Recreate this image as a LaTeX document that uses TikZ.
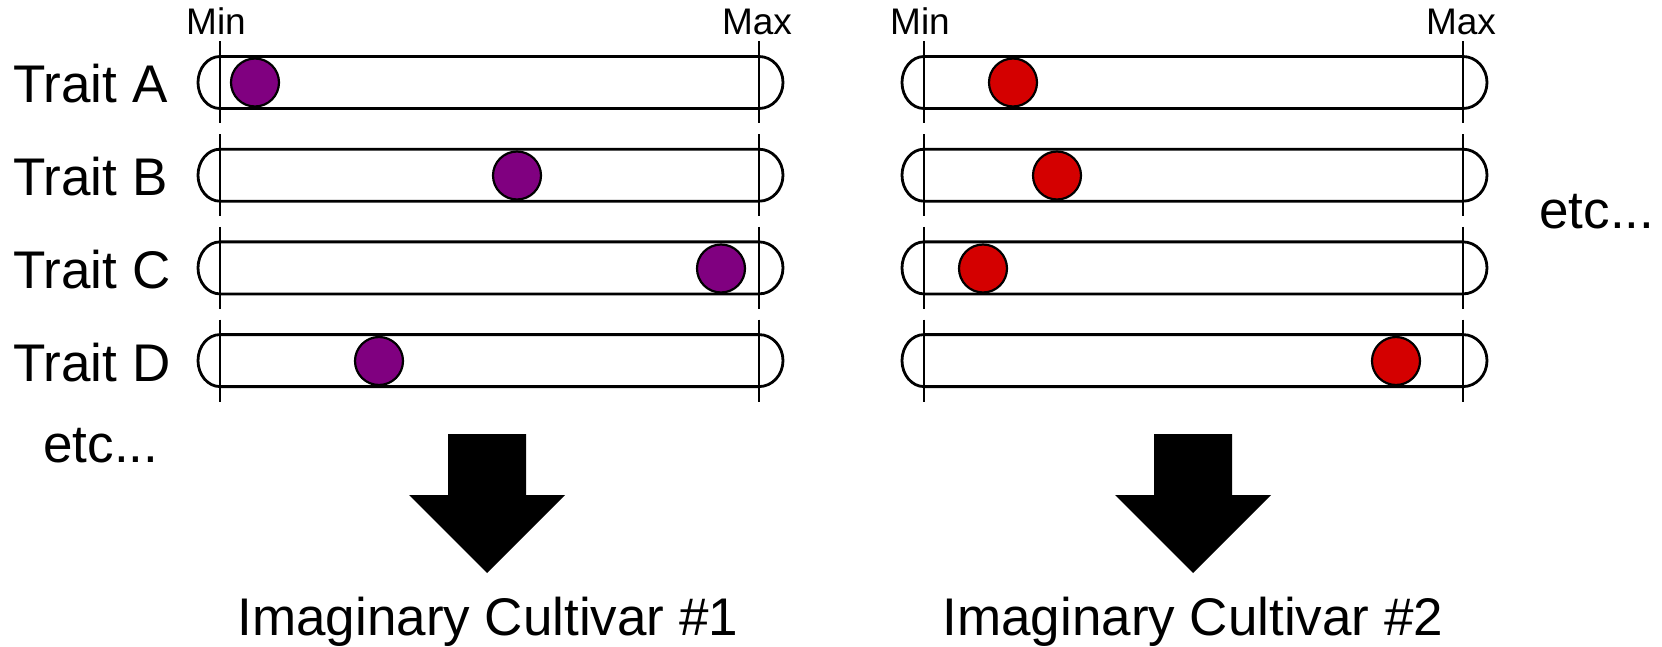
\documentclass[tikz,border=0pt]{standalone}
\usepackage{fontspec}
\setmainfont{Liberation Sans}
\definecolor{cpurple}{RGB}{128,0,128}
\definecolor{cred}{RGB}{212,0,0}
\begin{document}
\begin{tikzpicture}[x=0.5pt,y=-0.5pt,
  barline/.style={line width=1.4pt},
  tickline/.style={line width=1.4pt},
  dot/.style={circle,draw=black,line width=1.1pt,minimum size=24pt,inner sep=0pt},
  big/.style={font=\fontsize{26.5}{30}\selectfont,inner sep=0pt},
  small/.style={font=\fontsize{18.5}{21}\selectfont,inner sep=0pt},
  blockarrow/.style={fill=black}]
\useasboundingbox (0,0) rectangle (1662,647);

% bars
\foreach \ox in {0,704}{
  \foreach \cy in {82.5,175.2,267.9,360.6}{
    \draw[barline] (220+\ox,\cy-26) -- (759+\ox,\cy-26)
      arc[start angle=90,end angle=-90,x radius=12pt,y radius=13pt]
      -- (220+\ox,\cy+26)
      arc[start angle=270,end angle=90,x radius=11pt,y radius=13pt] -- cycle;
    \draw[tickline] (220+\ox,\cy-41) -- (220+\ox,\cy+41);
    \draw[tickline] (759+\ox,\cy-41) -- (759+\ox,\cy+41);
  }
}

% Min / Max labels
\node[small,anchor=base] (min1) at (216,35) {Min};
\node[small,anchor=base] (max1) at (757,35) {Max};
\node[small,anchor=base] (min2) at (920,35) {Min};
\node[small,anchor=base] (max2) at (1461,35) {Max};

% trait labels
\node[big,anchor=base west] (ta) at (13,103) {Trait A};
\node[big,anchor=base west] (tb) at (13,195.7) {Trait B};
\node[big,anchor=base west] (tc) at (13,288.4) {Trait C};
\node[big,anchor=base west] (td) at (13,381.1) {Trait D};
\node[big,anchor=base west] (etcl) at (43,462) {etc...};
\node[big,anchor=base west] (etcr) at (1539,228) {etc...};

% dots panel 1
\node[dot,fill=cpurple] (p1a) at (255,82.5) {};
\node[dot,fill=cpurple] (p1b) at (517,175.5) {};
\node[dot,fill=cpurple] (p1c) at (721,268.5) {};
\node[dot,fill=cpurple] (p1d) at (379,361) {};

% dots panel 2
\node[dot,fill=cred] (p2a) at (1013,82.5) {};
\node[dot,fill=cred] (p2b) at (1057,175.5) {};
\node[dot,fill=cred] (p2c) at (983,268.5) {};
\node[dot,fill=cred] (p2d) at (1396,361) {};

% block arrows
\foreach \ox in {0,706}{
  \fill[blockarrow] (448+\ox,434) -- (526+\ox,434) -- (526+\ox,495) -- (565+\ox,495)
    -- (487+\ox,573) -- (409+\ox,495) -- (448+\ox,495) -- cycle;
}

% cultivar labels
\node[big,anchor=base] (c1) at (488,635) {Imaginary Cultivar \#1};
\node[big,anchor=base] (c2) at (1193,635) {Imaginary Cultivar \#2};
\end{tikzpicture}
\end{document}
